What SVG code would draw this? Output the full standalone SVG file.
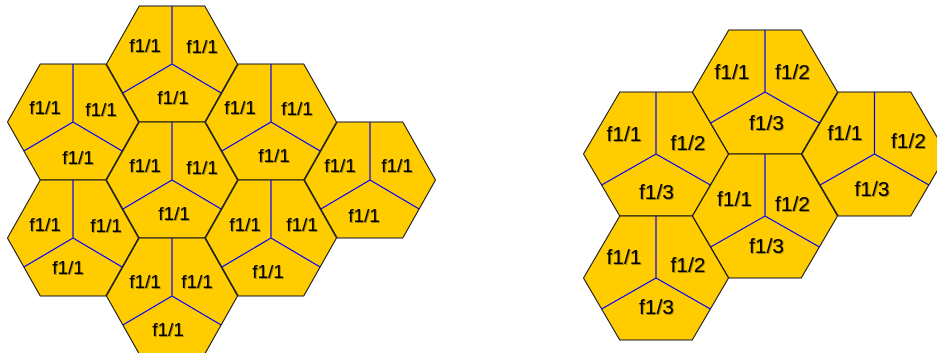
<svg xmlns="http://www.w3.org/2000/svg" xmlns:xlink="http://www.w3.org/1999/xlink" width="937" height="353" viewBox="0 0 937 353">
<style>
.hex{fill:#FFCC00;stroke:#1a1a1a;stroke-width:1.1}
.div{fill:none;stroke:#0000ff;stroke-width:1.2}
.l{font-family:"Liberation Sans",Arial,sans-serif;font-size:19px;fill:#000;text-anchor:middle;filter:url(#sh)}
.r{font-family:"Liberation Sans",Arial,sans-serif;font-size:21px;fill:#000;text-anchor:middle;filter:url(#sh)}
</style>
<defs>
<filter id="sh" x="-20%" y="-20%" width="140%" height="140%">
<feDropShadow dx="0.8" dy="0.8" stdDeviation="0.4" flood-color="#000" flood-opacity="0.45"/>
</filter>
<g id="hexL">
<polygon class="hex" points="-65.5,0 -32.75,-58 32.75,-58 65.5,0 32.75,58 -32.75,58"/>
<path class="div" d="M0,-58V0M0,0L-49.1,29M0,0L49.1,29"/>
</g>
<g id="hexR">
<polygon class="hex" points="-72.5,0 -36.25,-62 36.25,-62 72.5,0 36.25,62 -36.25,62"/>
<path class="div" d="M0,-62V0M0,0L-54.4,31M0,0L54.4,31"/>
</g>
</defs>
<rect width="937" height="353" fill="#fff"/>
<g id="connectors"/>
<g id="hexA"><use href="#hexL" x="172" y="64"/><text class="l" x="145" y="52">f1/1</text><text class="l" x="202" y="53">f1/1</text><text class="l" x="173" y="104">f1/1</text></g>
<g id="hexB"><use href="#hexL" x="73" y="122"/><text class="l" x="45" y="114">f1/1</text><text class="l" x="101" y="116">f1/1</text><text class="l" x="78" y="164">f1/1</text></g>
<g id="hexC"><use href="#hexL" x="271" y="122"/><text class="l" x="240" y="114">f1/1</text><text class="l" x="297" y="115">f1/1</text><text class="l" x="274" y="162">f1/1</text></g>
<g id="hexD"><use href="#hexL" x="172" y="180"/><text class="l" x="145" y="172">f1/1</text><text class="l" x="202" y="174">f1/1</text><text class="l" x="174" y="220">f1/1</text></g>
<g id="hexE"><use href="#hexL" x="370" y="180"/><text class="l" x="340" y="172">f1/1</text><text class="l" x="397" y="172">f1/1</text><text class="l" x="364" y="222">f1/1</text></g>
<g id="hexF"><use href="#hexL" x="73" y="238"/><text class="l" x="45" y="231">f1/1</text><text class="l" x="106" y="232">f1/1</text><text class="l" x="68" y="274">f1/1</text></g>
<g id="hexG"><use href="#hexL" x="271" y="238"/><text class="l" x="245" y="231">f1/1</text><text class="l" x="302" y="231">f1/1</text><text class="l" x="268" y="278">f1/1</text></g>
<g id="hexH"><use href="#hexL" x="172" y="296"/><text class="l" x="145" y="288">f1/1</text><text class="l" x="197" y="288">f1/1</text><text class="l" x="168" y="336">f1/1</text></g>
<g id="hexP"><use href="#hexR" x="656" y="154"/><text class="r" x="624" y="141">f1/1</text><text class="r" x="688" y="150">f1/2</text><text class="r" x="656.5" y="199">f1/3</text></g>
<g id="hexQ"><use href="#hexR" x="765" y="92"/><text class="r" x="732" y="79">f1/1</text><text class="r" x="792.5" y="79">f1/2</text><text class="r" x="766.5" y="130">f1/3</text></g>
<g id="hexR1"><use href="#hexR" x="765" y="216"/><text class="r" x="734.5" y="206">f1/1</text><text class="r" x="792.5" y="211">f1/2</text><text class="r" x="766.5" y="253">f1/3</text></g>
<g id="hexS"><use href="#hexR" x="874.5" y="154"/><text class="r" x="845" y="140">f1/1</text><text class="r" x="908.5" y="148">f1/2</text><text class="r" x="872" y="196">f1/3</text></g>
<g id="hexT"><use href="#hexR" x="656" y="278"/><text class="r" x="624" y="264">f1/1</text><text class="r" x="688" y="272">f1/2</text><text class="r" x="656.5" y="314">f1/3</text></g>
</svg>
